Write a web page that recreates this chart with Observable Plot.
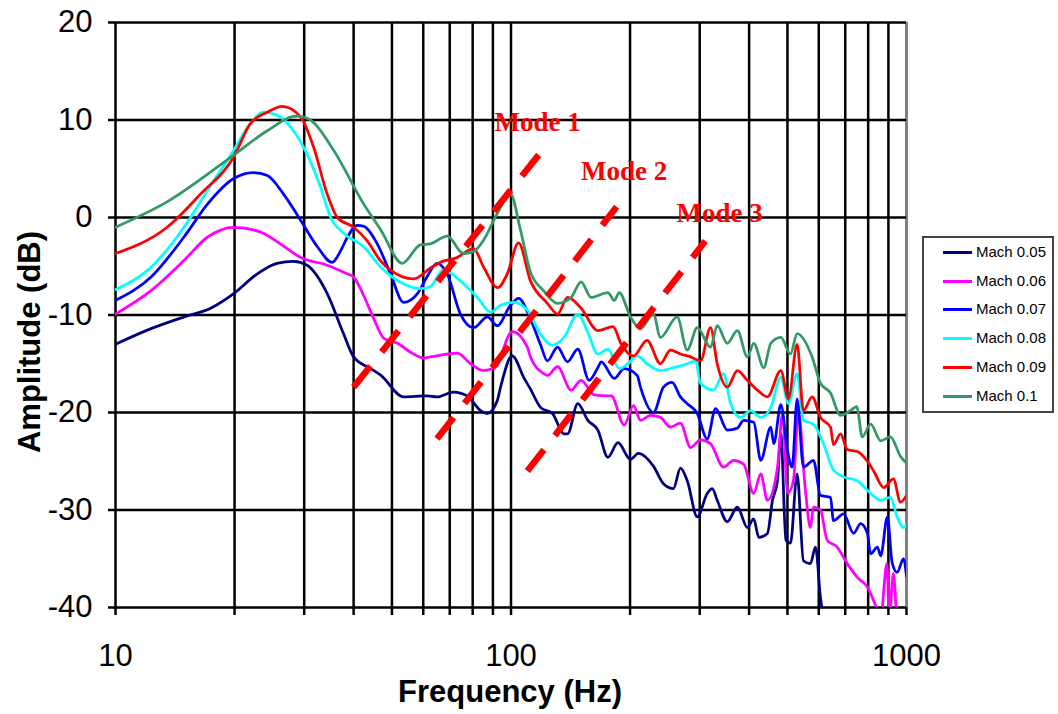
<!DOCTYPE html>
<html><head><meta charset="utf-8">
<script src="https://cdn.jsdelivr.net/npm/d3@7"></script>
<script src="https://cdn.jsdelivr.net/npm/@observablehq/plot@0.6"></script>
<style>
body{margin:0;background:#fff;}
#wrap{position:relative;width:1058px;height:714px;font-family:"Liberation Sans",Arial,sans-serif;overflow:hidden;}
#wrap svg{position:absolute;left:0;top:0;}
.ttl{position:absolute;font-weight:bold;font-size:31px;color:#000;white-space:nowrap;transform:translate(-50%,-50%);}
#legend{position:absolute;left:922px;top:236px;width:132px;height:177px;border:2px solid #444;box-sizing:border-box;background:#fff;}
.li{position:absolute;left:0;height:20px;font-size:15px;line-height:20px;white-space:nowrap;color:#000;}
.sw{position:absolute;left:19px;top:9px;width:29px;height:3px;}
.lt{position:absolute;left:52px;top:0;}
</style></head><body><div id="wrap"></div>
<script>
// ---- Data (frequency in Hz, amplitude in dB) ----
const seriesNames = ["Mach 0.05","Mach 0.06","Mach 0.07","Mach 0.08","Mach 0.09","Mach 0.1"];
const seriesColors = ["#000080","#FF00FF","#0000FF","#00FFFF","#FF0000","#339966"];

const mach005 = [[10,-13],[12.3,-11.4],[14.9,-10.2],[17.4,-9.3],[19.9,-7.8],[22.8,-5.8],[25.6,-4.7],[28.2,-4.5],[30.5,-4.9],[34.3,-7.8],[37.7,-11.9],[40,-14.3],[44.2,-15.5],[46.9,-16.2],[53.5,-18.4],[61.3,-18.3],[65,-18.4],[71.5,-17.9],[77.5,-18.3],[83.8,-19.8],[87.2,-20.1],[92.3,-18.8],[94.1,-17.4],[100.7,-14.2],[108,-16.5],[112,-17.6],[118.9,-19.5],[127.3,-20.1],[136.1,-22.2],[139,-22.2],[147.5,-19.1],[156.4,-20.8],[165.8,-21.8],[175.8,-24.6],[186.4,-23.1],[200.5,-24.8],[210,-24.2],[229.1,-25.5],[242.9,-27.3],[257.5,-27.8],[268.2,-25.7],[279,-27],[295.8,-30.7],[313.4,-28.3],[322.7,-27.8],[332.2,-29],[352.3,-31.2],[373.5,-29.7],[396,-31.8],[410.9,-30.9],[423,-32.8],[445,-32.4],[458.3,-29],[471.9,-27],[481.1,-22.2],[495.6,-33.1],[508.8,-33.4],[529,-26.3],[548.8,-35.2],[571.6,-35.5],[588.6,-33.8],[606,-39],[620,-41.5]];

const mach006 = [[10,-9.9],[12.3,-7.5],[14.9,-4.4],[17.1,-2.0],[19.9,-1.0],[23.3,-1.5],[26.1,-2.7],[29.4,-4.1],[34.3,-4.9],[38.6,-5.8],[40,-6.1],[42.4,-8.0],[45,-10.4],[47.7,-12.4],[51.6,-12.9],[56.7,-14.0],[60,-14.4],[62.5,-14.3],[73.1,-13.9],[79,-15.0],[85.3,-15.7],[92.3,-15.2],[94.1,-14.3],[100.7,-11.7],[110,-13.3],[112,-14.3],[120.9,-16.0],[123.6,-16.2],[131.1,-15.3],[141.9,-17.7],[150.4,-16.7],[162.3,-18.2],[175.8,-18.3],[179.3,-18.3],[193.3,-21.3],[204,-19.3],[212.5,-20.8],[225.2,-20.3],[238.7,-20.5],[253,-21.5],[268.2,-21.1],[284.5,-23.6],[301.4,-22.8],[319.5,-23.2],[344.7,-25.6],[365.5,-24.9],[387.5,-25.3],[410.9,-28.3],[428,-26.3],[445,-29.0],[471.9,-25.6],[485.9,-20.1],[500.5,-28.3],[517.7,-27.0],[533,-20.0],[555.2,-28.0],[571.6,-31.8],[581.7,-29.7],[606,-30.0],[630.1,-33.1],[668,-33.8],[708.3,-35.5],[751,-36.9],[796.2,-37.9],[826,-39.3],[860.5,-41],[892,-35.5],[905,-41],[926.6,-36.5],[945,-42]];

const mach007 = [[10,-8.5],[12.3,-6.1],[14.9,-2.0],[17.1,1.4],[19.9,4.0],[22.3,4.6],[24.2,4.3],[26.6,2.4],[29.4,-0.3],[32.4,-3.0],[35.3,-4.6],[37.1,-3.4],[38.6,-2.0],[40.9,-0.8],[42.4,-0.9],[45.9,-2.7],[49.6,-5.8],[53.5,-8.7],[58,-7.8],[61.3,-6.1],[65,-4.7],[69,-5.8],[74.5,-9.9],[80.4,-11.3],[87.2,-10.2],[92.3,-11.1],[99.7,-9.0],[104.5,-8.3],[112,-10.4],[118.9,-13.1],[123.6,-14.7],[131.1,-13.3],[139,-14.8],[147.5,-13.5],[157.6,-16.7],[165.8,-15.4],[169.1,-14.8],[182.5,-16.5],[193.3,-15.5],[208.5,-16.2],[212.5,-17.4],[229.1,-20.0],[242.9,-17.4],[255.5,-16.9],[268.2,-18.4],[279,-19.1],[295.8,-20.1],[313.4,-22.7],[329,-19.6],[352.3,-21.8],[373.5,-21.6],[387.5,-20.8],[410.9,-21.0],[428,-24.9],[453.8,-21.5],[461.8,-23.2],[481.1,-19.2],[500.5,-24.0],[513.8,-25.6],[529,-18.6],[548.8,-25.6],[581.7,-24.9],[606,-28.5],[642.4,-28.7],[653.7,-31.1],[693,-30.4],[735,-32.4],[765.6,-31.4],[796.2,-32.4],[811.7,-34.5],[844,-33.8],[860.5,-34.7],[894.8,-30.7],[919.7,-35.4],[946.7,-36.4],[982.7,-35.0],[1000,-36.8]];

const mach008 = [[10,-7.4],[12.3,-5.1],[14.9,-1.0],[17.1,2.8],[19.9,6.9],[21.9,9.6],[23.7,10.8],[25.6,10.5],[28.2,8.9],[30.5,6.5],[33,3.1],[35,0.0],[37.7,-1.6],[42.4,-3.0],[46.9,-5.1],[53.5,-6.8],[59,-7.3],[62.5,-7.1],[67.4,-5.4],[74.5,-6.5],[82.2,-8.2],[88.9,-9.7],[94.1,-9.0],[101.5,-8.7],[110,-9.5],[118.9,-12.0],[127.3,-13.1],[136.1,-12.3],[147.5,-9.9],[156.4,-11.8],[165.8,-14.0],[175.8,-13.5],[187.8,-15.5],[197.5,-15.0],[208.5,-14.2],[220.8,-15.0],[238.7,-15.7],[257.5,-15.4],[279,-15.0],[292.9,-14.7],[301.4,-17.0],[325.1,-17.7],[344.7,-16.0],[359.2,-19.1],[380.7,-20.5],[403.8,-19.8],[428,-20.5],[453.8,-19.5],[481.1,-16.4],[502.9,-19.1],[529,-16.0],[548.8,-20.8],[581.7,-21.2],[616.7,-23.2],[653.7,-25.9],[693,-26.6],[751,-27.0],[811.7,-28.3],[860.5,-29.0],[910.7,-28.7],[946.7,-30.7],[982.7,-31.8],[1000,-31.5]];

const mach009 = [[10,-3.7],[13.5,-1.0],[16.4,2.4],[19.9,6.2],[21.9,9.6],[24.2,10.8],[26.4,11.4],[29.4,10.3],[31.7,7.2],[34.3,2.4],[36.4,0.0],[40,-1.0],[43.3,-2.4],[46.9,-4.5],[49.6,-5.4],[56.7,-6.3],[62.5,-5.2],[66.3,-4.6],[73.1,-4.1],[80.4,-3.2],[85.3,-5.1],[92.5,-7.2],[97.8,-5.8],[104.5,-2.6],[112,-6.5],[123.6,-8.8],[131.1,-9.9],[139,-8.2],[150.4,-9.3],[165.8,-11.6],[181.1,-11.2],[190,-13.0],[204,-14.2],[220.8,-12.6],[238.7,-15.0],[253,-13.6],[268.2,-14.0],[284.5,-14.3],[301.4,-14.7],[319.5,-11.3],[332.2,-15.0],[352.3,-17.4],[373.5,-15.7],[396,-16.7],[419.9,-17.7],[445,-18.4],[481.1,-15.7],[502.9,-18.6],[529,-13.0],[548.8,-19.8],[577.3,-18.4],[606,-20.5],[642.4,-21.5],[653.7,-23.3],[681,-22.2],[708.3,-23.8],[751,-24.0],[796.2,-25.0],[826,-26.0],[875.7,-27.7],[926.6,-26.8],[965.7,-29.2],[1000,-28.5]];

const mach010 = [[10,-1.0],[13.5,1.6],[19.9,6.4],[24.2,8.9],[28.7,10.4],[31.1,10.0],[35.6,6.9],[42.4,1.4],[46.9,-1.3],[53.1,-4.7],[59,-2.8],[62.5,-2.7],[69,-1.9],[75.8,-3.7],[80.4,-3.5],[85.3,-2.3],[92.3,0.4],[99.7,2.4],[105.7,-1.3],[112,-5.6],[120.9,-7.5],[131.1,-8.8],[141.9,-8.2],[150.4,-6.6],[159.4,-8.2],[175.8,-7.7],[182.5,-8.5],[187.8,-7.7],[200.5,-10.2],[212.5,-11.4],[229.1,-9.9],[238.7,-12.3],[263.1,-10.2],[279,-13.6],[295.8,-11.3],[319.5,-13.3],[332.2,-11.1],[352.3,-12.9],[373.5,-11.6],[396,-14.3],[410.9,-12.9],[435.5,-15.4],[453.8,-12.9],[481.1,-12.3],[508.8,-14.0],[529,-11.9],[577.3,-14.3],[606,-17.0],[642.4,-18.0],[681,-20.3],[722,-19.8],[748,-19.4],[773.3,-22.5],[811.7,-21.2],[860.5,-22.9],[910.7,-22.5],[965.7,-24.5],[1000,-25.2]];

// Mode lines (dashed) and labels
const modeNames = ["Mode 1","Mode 2","Mode 3"];
const modeStartHz = [40, 65, 110];
const modeStartDb = [-17.4, -22.7, -26.0];
const modeEndHz = [119, 185, 310];
const modeEndDb = [6.7, 1.1, -2.4];
const modeLabelHz = [90.8, 150.4, 262];
const modeLabelDb = [9.8, 4.7, 0.4];

// Axis ticks
const yTicks = [-40,-30,-20,-10,0,10,20];
const freqGrid = [10,20,30,40,50,60,70,80,90,100,200,300,400,500,600,700,800,900];
const xTicks = [10,20,30,40,50,60,70,80,90,100,200,300,400,500,600,700,800,900,1000];
const xLabelTicks = [10,100,1000];

// ---- Build ----
const allSeries = [mach005, mach006, mach007, mach008, mach009, mach010];
const rows = allSeries.map(s => s.map(([f, v]) => ({f, v})));
const modes = modeNames.map((n, i) => ({n, x1: modeStartHz[i], y1: modeStartDb[i], x2: modeEndHz[i], y2: modeEndDb[i], lx: modeLabelHz[i], ly: modeLabelDb[i]}));

const chart = Plot.plot({
  width: 1058, height: 714,
  marginLeft: 115, marginRight: 152, marginTop: 22, marginBottom: 107,
  style: {fontFamily: "'Liberation Sans', Arial, sans-serif", fontSize: "31px", background: "#fff", color: "#000"},
  x: {type: "log", domain: [10, 1000], label: null},
  y: {domain: [-40, 20], label: null},
  marks: [
    Plot.ruleX(freqGrid, {stroke: "#000", strokeWidth: 2.5}),
    Plot.ruleX([1000], {stroke: "#808080", strokeWidth: 3}),
    Plot.ruleY(yTicks, {stroke: "#000", strokeWidth: 2.5}),
    ...rows.map((r, i) => Plot.line(r, {x: "f", y: "v", stroke: seriesColors[i], strokeWidth: 2.75, curve: "monotone-x", clip: true})),
    Plot.link(modes, {x1: "x1", y1: "y1", x2: "x2", y2: "y2", stroke: "#FF0000", strokeWidth: 6.5, strokeDasharray: "27,18", strokeLinecap: "butt"}),
    Plot.text(modes, {x: "lx", y: "ly", text: "n", textAnchor: "start", fill: "#FF0000", fontFamily: "'Liberation Serif', 'Times New Roman', serif", fontWeight: "bold", fontSize: 27}),
    Plot.axisY({ticks: yTicks, tickFormat: d => String(d), tickSize: 7, tickPadding: 16, strokeWidth: 2.5, label: null}),
    Plot.axisX({ticks: xTicks, tickFormat: d => xLabelTicks.includes(d) ? String(d) : "", tickSize: 8, tickPadding: 28, strokeWidth: 2.5, label: null})
  ]
});

const wrap = document.getElementById("wrap");
wrap.appendChild(chart);

const yt = document.createElement("div");
yt.className = "ttl";
yt.textContent = "Amplitude (dB)";
yt.style.left = "30px"; yt.style.top = "342px";
yt.style.transform = "translate(-50%,-50%) rotate(-90deg)";
wrap.appendChild(yt);

const xt = document.createElement("div");
xt.className = "ttl";
xt.textContent = "Frequency (Hz)";
xt.style.left = "510px"; xt.style.top = "692px";
wrap.appendChild(xt);

const lg = document.createElement("div");
lg.id = "legend";
seriesNames.forEach((n, i) => {
  const row = document.createElement("div");
  row.className = "li";
  row.style.top = (3.7 + 28.8 * i) + "px";
  row.style.width = "128px";
  const sw = document.createElement("div");
  sw.className = "sw"; sw.style.background = seriesColors[i];
  const t = document.createElement("div");
  t.className = "lt"; t.textContent = n;
  row.appendChild(sw); row.appendChild(t);
  lg.appendChild(row);
});
wrap.appendChild(lg);
</script></body></html>
